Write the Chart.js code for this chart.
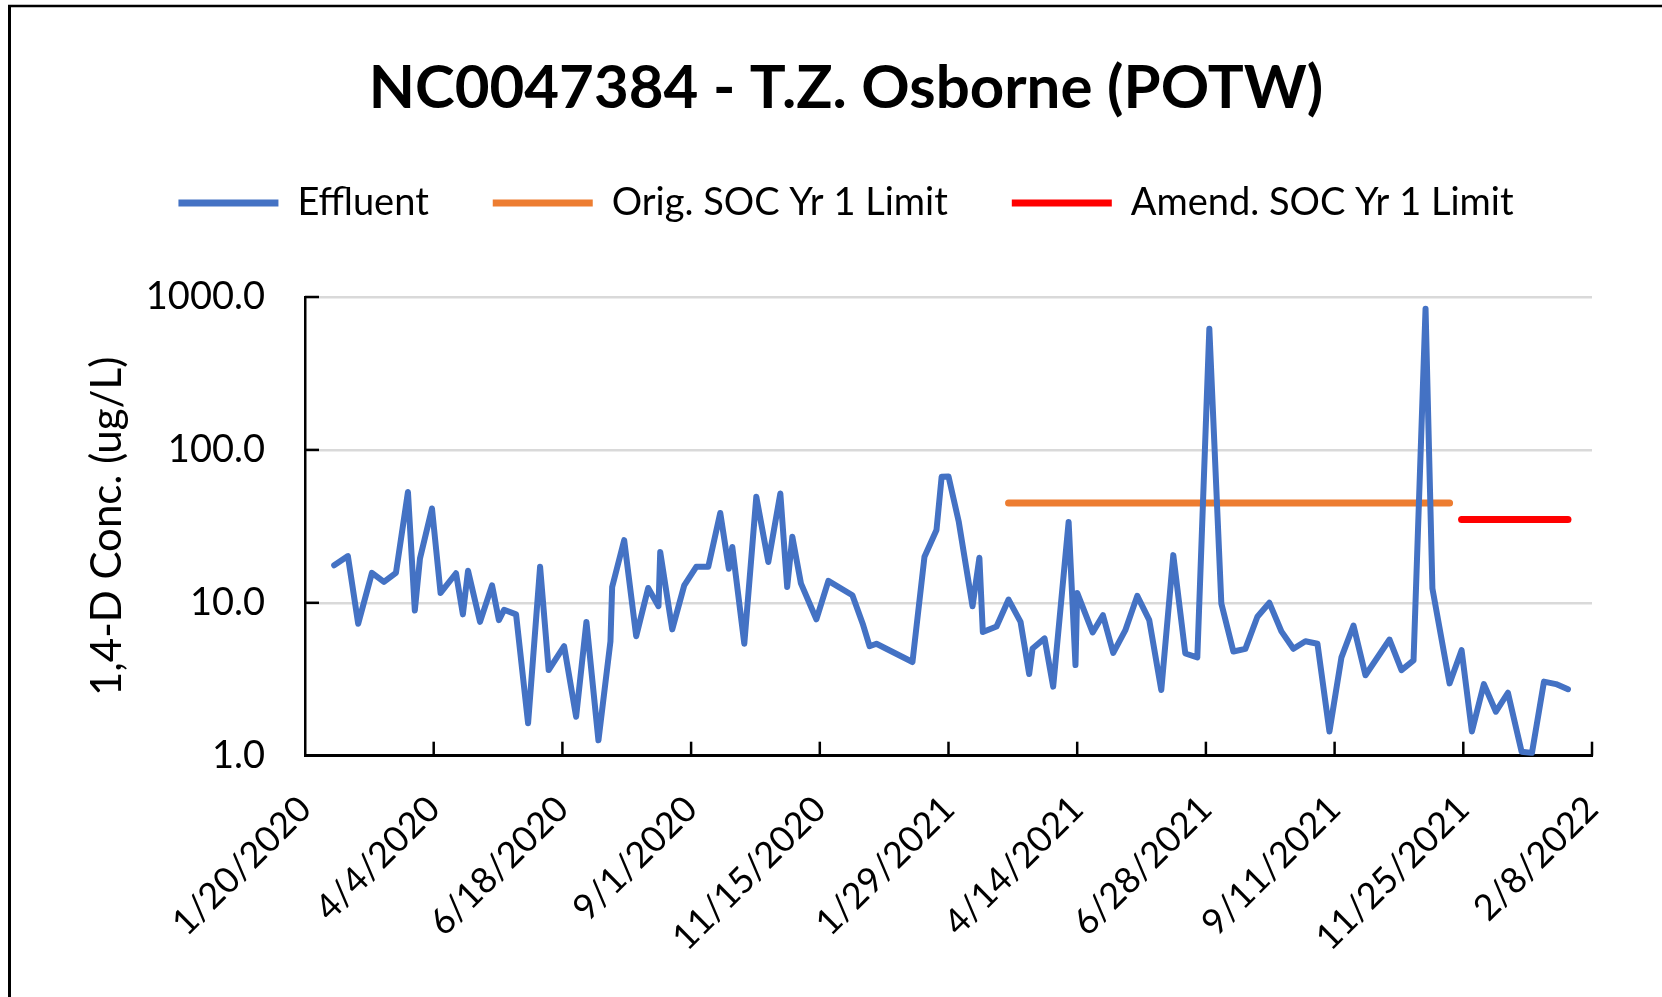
<!DOCTYPE html>
<html>
<head>
<meta charset="utf-8">
<title>NC0047384 - T.Z. Osborne (POTW)</title>
<script src="https://cdn.jsdelivr.net/npm/chart.js@4.4.1/dist/chart.umd.min.js"></script>
<style>
    html, body { margin: 0; padding: 0; background: #fff; }
    #wrap { width: 1662px; height: 997px; position: relative; }
</style>
</head>
<body>
<div id="wrap"><canvas id="myChart"></canvas></div>
<script>
// -- sample dates (m/d/yyyy) and effluent results (ug/L) --
const sampleDates = [
    '2/6/2020','2/14/2020','2/20/2020','2/28/2020','3/6/2020','3/13/2020','3/20/2020','3/24/2020','3/27/2020','4/3/2020',
    '4/8/2020','4/17/2020','4/21/2020','4/24/2020','5/1/2020','5/8/2020','5/12/2020','5/15/2020','5/22/2020','5/29/2020',
    '6/5/2020','6/10/2020','6/19/2020','6/26/2020','7/2/2020','7/9/2020','7/16/2020','7/17/2020','7/24/2020','7/31/2020',
    '8/7/2020','8/13/2020','8/14/2020','8/21/2020','8/28/2020','9/4/2020','9/11/2020','9/18/2020','9/23/2020','9/25/2020',
    '10/2/2020','10/9/2020','10/16/2020','10/23/2020','10/27/2020','10/30/2020','11/4/2020','11/13/2020','11/20/2020','12/4/2020',
    '12/10/2020','12/14/2020','12/18/2020','1/8/2021','1/15/2021','1/22/2021','1/25/2021','1/29/2021','2/4/2021','2/12/2021',
    '2/16/2021','2/18/2021','2/26/2021','3/5/2021','3/12/2021','3/17/2021','3/19/2021','3/26/2021','3/31/2021','4/9/2021',
    '4/13/2021','4/14/2021','4/23/2021','4/29/2021','5/5/2021','5/12/2021','5/19/2021','5/26/2021','6/2/2021','6/9/2021',
    '6/16/2021','6/23/2021','6/30/2021','7/7/2021','7/14/2021','7/21/2021','7/28/2021','8/4/2021','8/11/2021','8/18/2021',
    '8/25/2021','9/1/2021','9/8/2021','9/15/2021','9/22/2021','9/29/2021','10/13/2021','10/20/2021','10/27/2021','11/3/2021',
    '11/7/2021','11/17/2021','11/24/2021','11/30/2021','12/7/2021','12/14/2021','12/21/2021','12/29/2021','1/4/2022','1/11/2022',
    '1/18/2022','1/25/2022'
];
const effluent = [
    17.6, 20.2, 7.3, 15.7, 13.7, 15.7, 53, 8.9, 19.5, 41.4,
    11.6, 15.6, 8.4, 16.2, 7.5, 13.0, 7.7, 9.0, 8.4, 1.63,
    17.2, 3.63, 5.2, 1.8, 7.5, 1.26, 5.6, 12.7, 25.7, 6.05,
    12.5, 9.5, 21.5, 6.7, 13.0, 17.2, 17.2, 38.7, 16.7, 23.2,
    5.4, 49.3, 18.5, 51.9, 12.7, 27, 13.4, 7.8, 13.9, 11.2,
    7.3, 5.2, 5.4, 4.1, 20, 29.9, 66.7, 67.1, 33.8, 9.5,
    19.7, 6.45, 7.0, 10.5, 7.5, 3.42, 5.03, 5.85, 2.83, 33.8,
    3.92, 11.6, 6.4, 8.3, 4.7, 6.6, 11.1, 7.7, 2.69, 20.5,
    4.66, 4.4, 621, 9.9, 4.8, 5.0, 8.1, 10, 6.5, 5.0,
    5.6, 5.4, 1.44, 4.4, 7.1, 3.36, 5.75, 3.63, 4.2, 839,
    12.4, 2.97, 4.9, 1.44, 2.94, 1.94, 2.58, 1.06, 1.04, 3.05,
    2.94, 2.72
];

// -- SOC limits --
const origLimitDates = ['3/5/2021', '11/17/2021'];
const origLimit = [45, 45];
const amendLimitDates = ['11/24/2021', '1/25/2022'];
const amendLimit = [35, 35];

// -- axes --
const axisStart = '1/20/2020';
const axisEnd = '2/8/2022';
const axisStepDays = 75;
const yTicks = [1, 10, 100, 1000];

// --> m/d/yyyy to days since axisStart <--
function toDay(s)
{
    let p = s.split('/').map(Number);
    let q = axisStart.split('/').map(Number);
    return (Date.UTC(p[2], p[0]-1, p[1]) - Date.UTC(q[2], q[0]-1, q[1])) / 86400000;
}

// --> days since axisStart back to m/d/yyyy <--
function toLabel(v)
{
    let q = axisStart.split('/').map(Number);
    let d = new Date(Date.UTC(q[2], q[0]-1, q[1]) + v*86400000);
    return (d.getUTCMonth()+1) + '/' + d.getUTCDate() + '/' + d.getUTCFullYear();
}

function points(dates, values)
{
    return dates.map((e, i) => ({x: toDay(e), y: values[i]}));
}

// -- outer frame of the chart (top and left only are visible) --
const frame = {
    id: 'frame',
    beforeDraw(chart) {
        const c = chart.ctx;
        c.save();
        c.strokeStyle = '#000';
        c.lineWidth = 2.5;
        c.beginPath(); c.moveTo(8, 6); c.lineTo(chart.width, 6); c.stroke();
        c.lineWidth = 3;
        c.beginPath(); c.moveTo(9.5, 5); c.lineTo(9.5, chart.height); c.stroke();
        c.restore();
    }
};

// -- tick marks pointing into the plot area --
const insideTicks = {
    id: 'insideTicks',
    beforeDatasetsDraw(chart) {
        const c = chart.ctx;
        const x = chart.scales.x, y = chart.scales.y;
        const a = chart.chartArea;
        c.save();
        c.strokeStyle = '#000';
        c.lineWidth = 2.5;
        for (let t of y.ticks) {
            if (t.value === yTicks[0]) continue;
            let py = y.getPixelForValue(t.value);
            c.beginPath(); c.moveTo(a.left, py); c.lineTo(a.left + 14, py); c.stroke();
        }
        for (let t of x.ticks) {
            if (t.value === 0) continue;
            let px = x.getPixelForValue(t.value);
            c.beginPath(); c.moveTo(px, a.bottom); c.lineTo(px, a.bottom - 14); c.stroke();
        }
        c.restore();
    }
};

Chart.defaults.font.family = 'Lato';
Chart.defaults.color = '#000';

let chartObj = {
    type: 'line',
    data: {
        datasets: [{
            label: 'Effluent',
            data: points(sampleDates, effluent),
            borderColor: '#4472C4',
            backgroundColor: '#4472C4',
            borderWidth: 6
        },
        {
            label: 'Orig. SOC Yr 1 Limit',
            data: points(origLimitDates, origLimit),
            borderColor: '#ED7D31',
            backgroundColor: '#ED7D31',
            borderWidth: 7
        },
        {
            label: 'Amend. SOC Yr 1 Limit',
            data: points(amendLimitDates, amendLimit),
            borderColor: '#FF0000',
            backgroundColor: '#FF0000',
            borderWidth: 7
        }]
    },
    options: {
        responsive: true,
        maintainAspectRatio: false,
        animation: false,
        layout: { padding: { top: 0, left: 100, right: 70, bottom: 0 } },
        elements: {
            point: { radius: 0 },
            line: { tension: 0, borderCapStyle: 'round', borderJoinStyle: 'round' }
        },
        plugins: {
            title: {
                display: true,
                text: 'NC0047384 - T.Z. Osborne (POTW)',
                font: { size: 60, weight: 'bold', lineHeight: 1 },
                padding: { top: 59, bottom: 1 }
            },
            legend: {
                display: true,
                labels: {
                    font: { size: 38 },
                    boxWidth: 100,
                    boxHeight: 7,
                    useBorderRadius: true,
                    borderRadius: 3.5,
                    padding: 64,
                    generateLabels(chart) {
                        return chart.data.datasets.map((ds, i) => ({
                            text: ds.label,
                            fillStyle: ds.borderColor,
                            strokeStyle: ds.borderColor,
                            lineWidth: 0,
                            datasetIndex: i
                        }));
                    }
                }
            },
            // empty block that keeps the gap between legend and plot
            subtitle: {
                display: true,
                text: '',
                weight: 500,
                font: { size: 10, lineHeight: 1 },
                padding: { top: 0, bottom: 55 }
            },
            tooltip: { enabled: false }
        },
        scales: {
            x: {
                type: 'linear',
                min: 0,
                max: toDay(axisEnd),
                afterFit(scale) { scale.height = 241.3; },
                grid: { display: false, drawTicks: false },
                border: { color: '#000', width: 3 },
                ticks: {
                    stepSize: axisStepDays,
                    autoSkip: false,
                    maxRotation: 45,
                    minRotation: 45,
                    padding: 32,
                    font: { size: 36 },
                    callback: (v) => toLabel(v)
                }
            },
            y: {
                type: 'logarithmic',
                min: yTicks[0],
                max: yTicks[yTicks.length-1],
                afterFit(scale) { scale.width = 205; },
                afterBuildTicks(scale) { scale.ticks = yTicks.map(v => ({value: v})); },
                grid: { color: '#d9d9d9', lineWidth: 2.5, drawTicks: false },
                border: { color: '#000', width: 2.5 },
                ticks: {
                    padding: 40,
                    font: { size: 38 },
                    callback: (v) => Number(v).toFixed(1)
                },
                title: {
                    display: true,
                    text: '1,4-D Conc. (ug/L)',
                    font: { size: 42, lineHeight: 1 },
                    padding: { top: -14, bottom: 0 }
                }
            }
        }
    },
    plugins: [frame, insideTicks]
};

const ctx = document.getElementById('myChart').getContext('2d');
const myChart = new Chart(ctx, chartObj);
</script>
</body>
</html>
